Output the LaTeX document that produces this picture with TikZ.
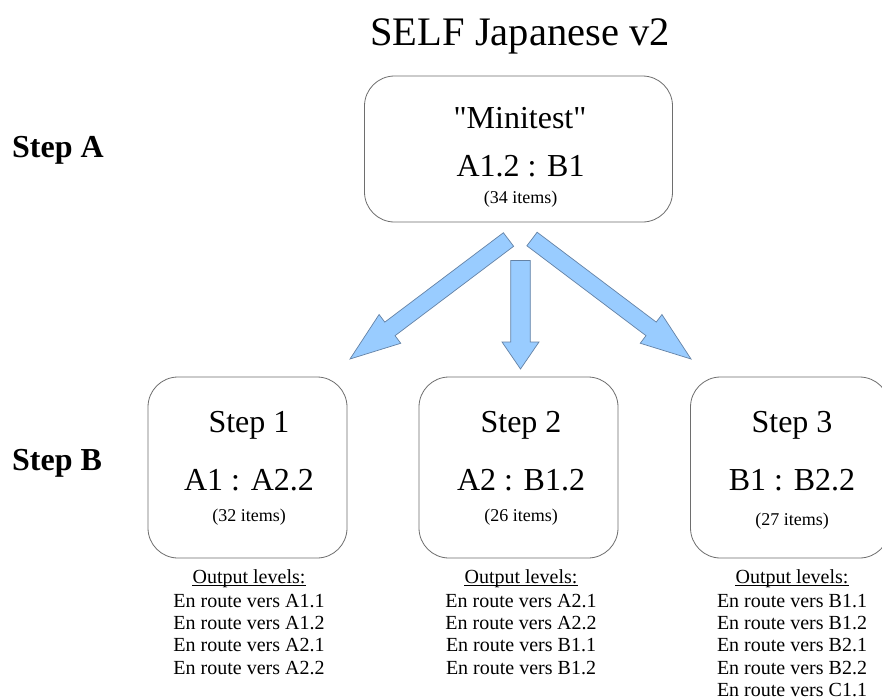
\documentclass[tikz,border=0pt]{standalone}
\usepackage{fontspec}
\setmainfont{Liberation Serif}
\newfontfamily\qfont{Liberation Serif}
\usetikzlibrary{calc}
\definecolor{arrfill}{RGB}{153,204,255}
\definecolor{arrline}{RGB}{100,130,165}
\definecolor{boxline}{RGB}{110,110,110}
\newcommand{\blockarr}[6]{%
  % #1 name, #2 tail, #3 tip, #4 shaft half width, #5 head half width, #6 head length
  \coordinate (#1-c) at ($(#3)!#6!(#2)$);
  \draw[barrow] ($(#2)!#4!90:(#3)$) -- ($(#1-c)!#4!90:(#3)$) -- ($(#1-c)!#5!90:(#3)$)
    -- (#3) -- ($(#1-c)!#5!-90:(#3)$) -- ($(#1-c)!#4!-90:(#3)$) -- ($(#2)!#4!-90:(#3)$) -- cycle;
}
\newcommand{\ulbelow}[1]{%
  \draw[line width=1pt] ($(#1.base west)+(0,2.6)$) -- ($(#1.base east)+(0,2.6)$);
}
\begin{document}
\begin{tikzpicture}[x=1pt,y=-1pt,
  box/.style={draw=boxline, line width=0.8pt, rounded corners=30pt, minimum width=199pt, minimum height=181pt, inner sep=0pt},
  barrow/.style={fill=arrfill, draw=arrline, line width=0.7pt, line join=miter},
  big/.style={anchor=base, inner sep=0pt, font=\fontsize{32}{38}\selectfont},
  small/.style={anchor=base, inner sep=0pt, font=\fontsize{18}{22}\selectfont},
  outl/.style={anchor=base, inner sep=0pt, font=\fontsize{20}{24}\selectfont},
  steplbl/.style={anchor=base west, inner sep=0pt, font=\fontsize{32}{38}\selectfont\bfseries}]
\useasboundingbox (0,0) rectangle (882,699);
\fill[white] (0,0) rectangle (882,699);

% title
\node[anchor=base, inner sep=0pt, font=\fontsize{40.5}{48}\selectfont] (title) at (520,45) {SELF Japanese v2};

% side labels
\node[steplbl] (stepA) at (12,157) {Step A};
\node[steplbl] (stepB) at (12,470) {Step B};

% top box
\node[box, minimum width=308pt, minimum height=146pt] (mini) at (518.5,149) {};
\node[big] (miniT) at (520,128) {\qfont "Minitest"};
\node[big] (miniL) at (520.5,176) {A1.2 : B1};
\node[small] (miniN) at (520.5,203) {(34 items)};

% step boxes
\node[box] (s1) at (247.5,467.5) {};
\node[box] (s2) at (518.5,467.5) {};
\node[box] (s3) at (790,467.5) {};

\node[big] (s1T) at (249,432.5) {Step 1};
\node[big] (s1L) at (249,490.5) {A1 : A2.2};
\node[small] (s1N) at (249,521.5) {(32 items)};

\node[big] (s2T) at (521,432.5) {Step 2};
\node[big] (s2L) at (521,490.5) {A2 : B1.2};
\node[small] (s2N) at (521,521.5) {(26 items)};

\node[big] (s3T) at (792,432.5) {Step 3};
\node[big] (s3L) at (792,490.5) {B1 : B2.2};
\node[small] (s3N) at (792,525) {(27 items)};

% output levels
\node[outl] (o1h) at (249,583.3) {Output levels:};
\node[outl] (o1a) at (249,607.3) {En route vers A1.1};
\node[outl] (o1b) at (249,629.6) {En route vers A1.2};
\node[outl] (o1c) at (249,651.9) {En route vers A2.1};
\node[outl] (o1d) at (249,674.2) {En route vers A2.2};

\node[outl] (o2h) at (521,583.3) {Output levels:};
\node[outl] (o2a) at (521,607.3) {En route vers A2.1};
\node[outl] (o2b) at (521,629.6) {En route vers A2.2};
\node[outl] (o2c) at (521,651.9) {En route vers B1.1};
\node[outl] (o2d) at (521,674.2) {En route vers B1.2};

\node[outl] (o3h) at (792,583.3) {Output levels:};
\node[outl] (o3a) at (792,607.3) {En route vers B1.1};
\node[outl] (o3b) at (792,629.6) {En route vers B1.2};
\node[outl] (o3c) at (792,651.9) {En route vers B2.1};
\node[outl] (o3d) at (792,674.2) {En route vers B2.2};
\node[outl] (o3e) at (792,696.5) {En route vers C1.1};
\ulbelow{o1h}
\ulbelow{o2h}
\ulbelow{o3h}

% block arrows
\coordinate (aL-tail) at (508.5,239.5);
\coordinate (aL-tip) at (350,359);
\coordinate (aM-tail) at (520.5,260.5);
\coordinate (aM-tip) at (520.5,369);
\coordinate (aR-tail) at (532,239);
\coordinate (aR-tip) at (691,359);
\blockarr{aL}{aL-tail}{aL-tip}{8.5pt}{18pt}{50pt}
\blockarr{aM}{aM-tail}{aM-tip}{9.8pt}{18.5pt}{27pt}
\blockarr{aR}{aR-tail}{aR-tip}{8.5pt}{18pt}{50pt}
\end{tikzpicture}
\end{document}
